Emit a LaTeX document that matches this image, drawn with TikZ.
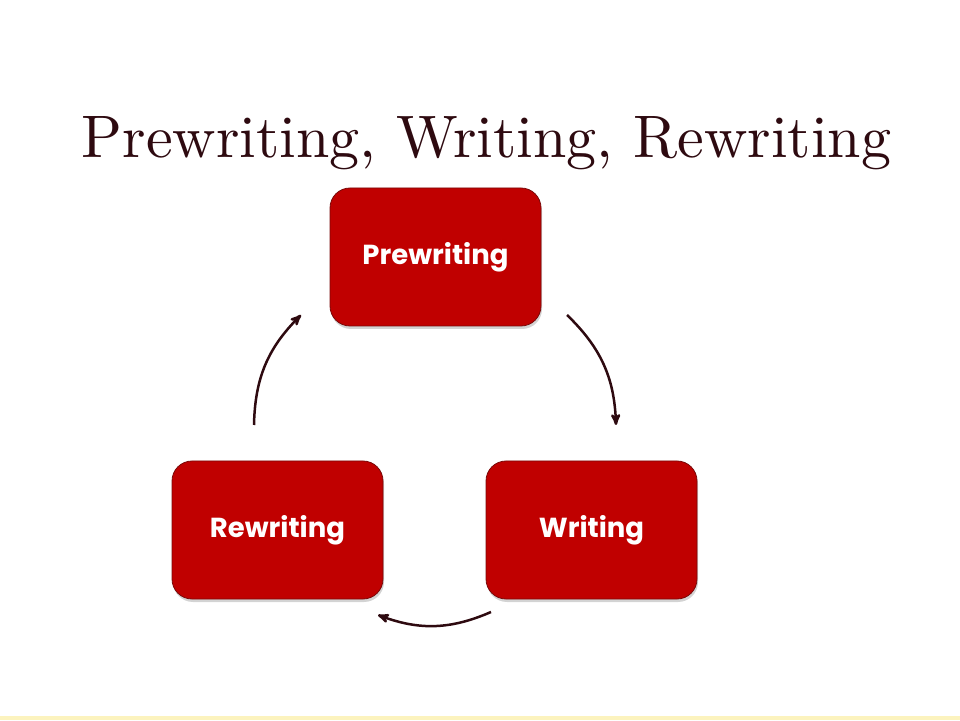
\documentclass[tikz,border=0pt]{standalone}
\usepackage{fontspec}
\newfontfamily\boxfont{Poppins}
\newfontfamily\titlefont{lmroman10-regular.otf}
\usepackage{tikz}
\usetikzlibrary{positioning,shapes,shadows,arrows}
\usepackage{xcolor}
\definecolor{stepred}{HTML}{C00000}
\definecolor{stepedge}{HTML}{7A0A0A}
\definecolor{titlered}{HTML}{2E0A10}
\definecolor{stripyellow}{HTML}{FCF3BE}
\tikzstyle{stage}=[rectangle, draw=stepedge, line width=0.8pt, rounded corners=20pt, fill=stepred,
drop shadow={opacity=0.35, shadow xshift=1pt, shadow yshift=-3pt},
text centered, text=white, minimum width=211pt, minimum height=138pt,
font=\boxfont\bfseries\fontsize{27.5}{32}\selectfont]
\tikzstyle{cycle}=[-stealth', line width=2.5pt, draw=titlered, bend left=22]

\begin{document}
\begin{tikzpicture}[x=1pt, y=1pt]
            \useasboundingbox (0,0) rectangle (960,720);
            \fill[stripyellow] (0,0) rectangle (960,4);
            \node (title)[anchor=base, text=titlered, font=\titlefont\fontsize{60}{72}\selectfont] at (486.5,562)
                {Prewriting, Writing, Rewriting};
            \node (1)[stage] at (435.5,463) {Prewriting};
            \node (2)[stage] at (591.5,190) {Writing};
            \node (3)[stage] at (277.5,190) {Rewriting};
            % free ends of the arrows
            \coordinate (1out) at (567,405);
            \coordinate (2in) at (616,295);
            \coordinate (2out) at (491,108);
            \coordinate (3in) at (378,105);
            \coordinate (3out) at (254,295);
            \coordinate (1in) at (301,405);
            \draw[cycle] (1out) to (2in);
            \draw[cycle] (2out) to (3in);
            \draw[cycle] (3out) to (1in);
        \end{tikzpicture}
\end{document}
